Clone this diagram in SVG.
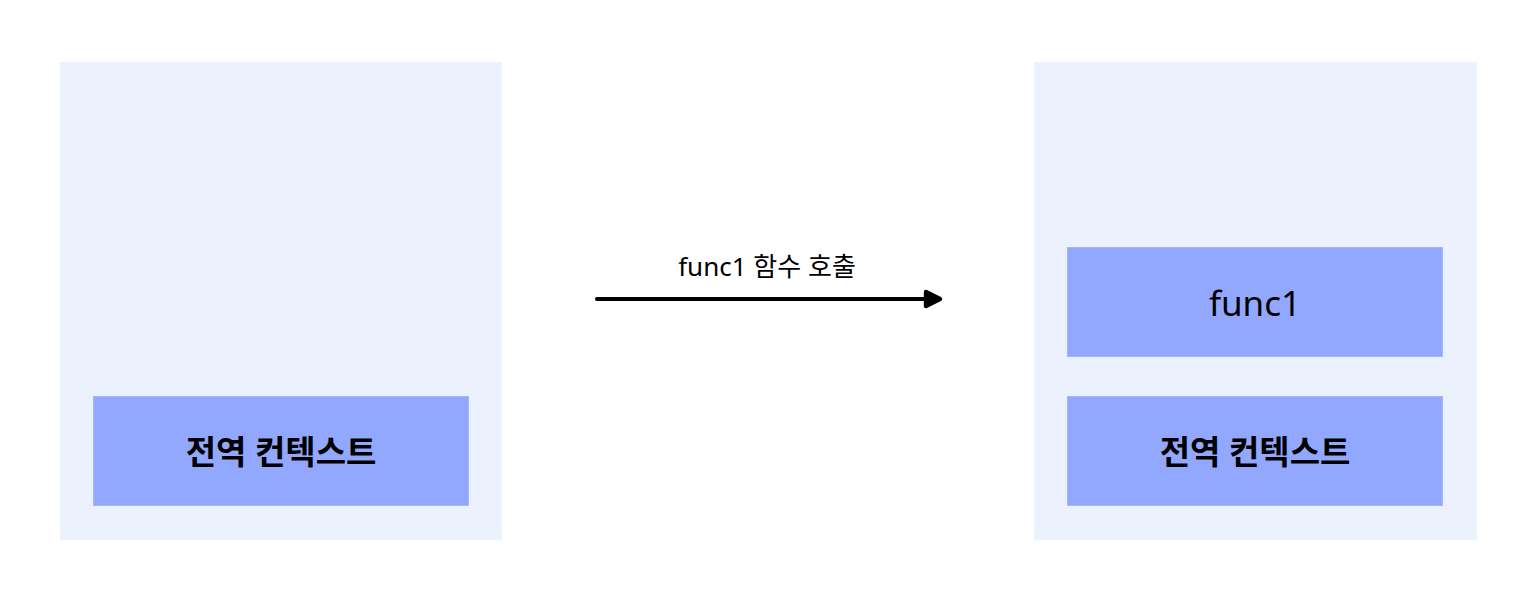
<svg xmlns="http://www.w3.org/2000/svg" width="1536" height="600" viewBox="0 0 1536 600">
<style>
.container{fill:#ebf1fd}
.box{fill:#92a8ff;stroke:#a4b6ff;stroke-width:1}
.t{font-family:"Noto Sans","Noto Sans CJK KR",sans-serif;fill:#000;text-anchor:middle;dominant-baseline:central}
.big{font-size:35px}
.ko{font-weight:600;font-size:33px}
.lbl{font-size:26px}
</style>
<defs>
<marker id="ah" viewBox="0 0 10 10" refX="8" refY="5" markerWidth="5" markerHeight="5" orient="auto" markerUnits="strokeWidth">
<path d="M1.5,1.5 L8.5,5 L1.5,8.5 Z" fill="#000" stroke="#000" stroke-width="2.2" stroke-linejoin="round"/>
</marker>
</defs>
<rect width="1536" height="600" fill="#fff"/>
<g id="left-stack">
<rect class="container" x="60" y="62" width="442" height="478"/>
</g>
<g id="left-global">
<rect class="box" x="93.5" y="396.5" width="375" height="109"/>
<text class="t ko" x="281" y="451">전역 컨텍스트</text>
</g>
<g id="right-stack">
<rect class="container" x="1034" y="62" width="443" height="478"/>
</g>
<g id="right-func1">
<rect class="box" x="1067.5" y="247.5" width="375" height="109"/>
<text class="t big" x="1255" y="302">func1</text>
</g>
<g id="right-global">
<rect class="box" x="1067.5" y="396.5" width="375" height="109"/>
<text class="t ko" x="1255" y="451">전역 컨텍스트</text>
</g>
<g id="connectors">
<line x1="597" y1="299" x2="939" y2="299" stroke="#000" stroke-width="4" stroke-linecap="round" marker-end="url(#ah)"/>
<text class="t lbl" x="767" y="266">func1 함수 호출</text>
</g>
</svg>
